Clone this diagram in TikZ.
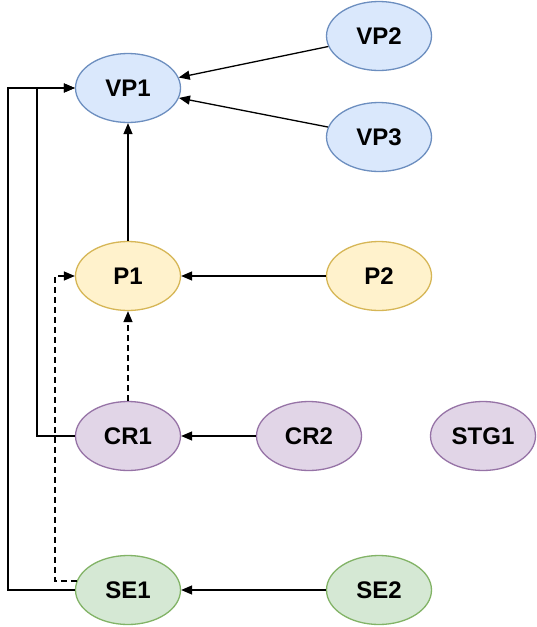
\documentclass[tikz,border=0pt]{standalone}
\usepackage{fontspec}
\setmainfont{Liberation Sans}
\usetikzlibrary{shapes.geometric,arrows.meta}
\definecolor{bluefill}{HTML}{DAE8FC}\definecolor{bluedraw}{HTML}{6C8EBF}
\definecolor{yelfill}{HTML}{FFF2CC}\definecolor{yeldraw}{HTML}{D6B656}
\definecolor{purfill}{HTML}{E1D5E7}\definecolor{purdraw}{HTML}{9673A6}
\definecolor{grnfill}{HTML}{D5E8D4}\definecolor{grndraw}{HTML}{82B366}
\begin{document}
\begin{tikzpicture}[x=1pt,y=-1pt,
  ell/.style={ellipse, draw, line width=1.3pt, minimum width=105pt, minimum height=69pt, inner sep=0pt, font=\fontsize{24}{28}\selectfont\bfseries},
  vpnode/.style={ell, fill=bluefill, draw=bluedraw},
  pnode/.style={ell, fill=yelfill, draw=yeldraw},
  crnode/.style={ell, fill=purfill, draw=purdraw},
  senode/.style={ell, fill=grnfill, draw=grndraw},
  arr/.style={line width=1.3pt, -{Triangle[length=11pt,width=9pt]}},
  dsh/.style={arr, dash pattern=on 6pt off 4pt}]
\useasboundingbox (0,0) rectangle (537,627);
\node[vpnode] (VP1) at (128,88) {VP1};
\node[vpnode] (VP2) at (379,36) {VP2};
\node[vpnode] (VP3) at (379,137) {VP3};
\node[pnode] (P1) at (128,276) {P1};
\node[pnode] (P2) at (379,276) {P2};
\node[crnode] (CR1) at (128,436) {CR1};
\node[crnode] (CR2) at (309,436) {CR2};
\node[crnode] (STG1) at (483,436) {STG1};
\node[senode] (SE1) at (128,590) {SE1};
\node[senode] (SE2) at (379,590) {SE2};
\draw[arr] (VP2) -- (VP1);
\draw[arr] (VP3) -- (VP1);
\draw[arr] (P1) -- (VP1);
\draw[arr] (P2) -- (P1);
\draw[dsh] (CR1) -- (P1);
\draw[arr] (CR2) -- (CR1);
\draw[arr] (SE2) -- (SE1);
\draw[arr] (CR1.west) -- ++(-38,0) |- (VP1.west);
\draw[arr] (SE1.west) -- ++(-67,0) |- (VP1.west);
\draw[dsh] (SE1.170) -| (55,276) -- (P1.west);
\end{tikzpicture}
\end{document}
